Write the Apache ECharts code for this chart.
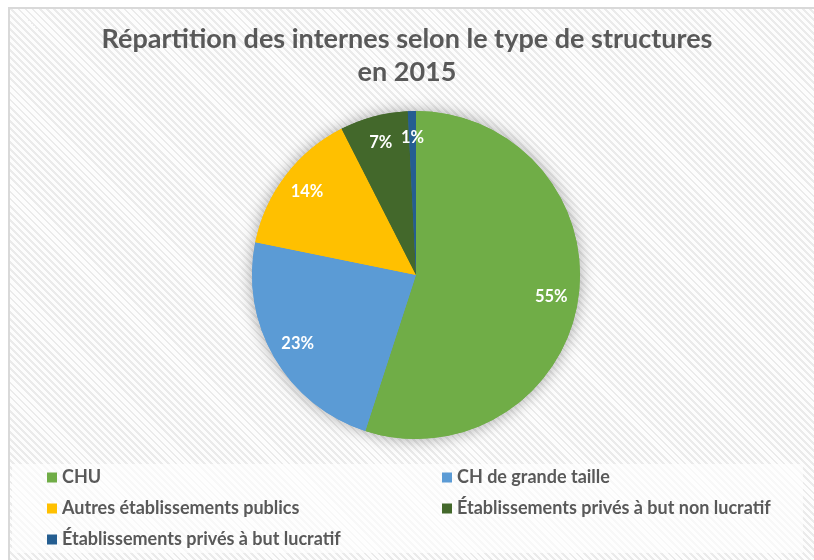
<!DOCTYPE html>
<html>
<head>
<meta charset="utf-8">
<script src="https://cdn.jsdelivr.net/npm/echarts@6/dist/echarts.min.js"></script>
<style>
html,body{margin:0;padding:0;background:#fff;overflow:hidden;}
.frame{position:absolute;left:8px;top:7px;width:820px;height:570px;border-left:2px solid #d9d9d9;border-top:2px solid #d9d9d9;
    background:repeating-linear-gradient(45deg,#fdfdfd 0px,#fdfdfd 3px,#ebebeb 3px,#ebebeb 5px);}
.legend-box{position:absolute;left:12px;top:464px;width:791px;height:89px;background:rgba(255,255,255,0.65);}
#main{position:absolute;left:0;top:0;width:814px;height:560px;}
</style>
</head>
<body>
<div class="frame"></div>
<div class="legend-box"></div>
<div id="main"></div>
<script>
// Répartition des internes selon le type de structures en 2015
var categories = ['CHU', 'CH de grande taille', 'Autres établissements publics', 'Établissements privés à but non lucratif', 'Établissements privés à but lucratif'];
var values = [55.0, 23.2, 14.3, 6.7, 0.8];
var colors = ['#70AD47', '#5B9BD5', '#FFC000', '#43682B', '#255E91'];
var legendLeft = ['CHU', 'Autres établissements publics', 'Établissements privés à but lucratif'];
var legendRight = ['CH de grande taille', 'Établissements privés à but non lucratif'];

var font = 'Lato';
var pieData = categories.map(function(c, i){
    return {name:c, value:values[i], itemStyle:{color:colors[i]}};
});

var chart = echarts.init(document.getElementById('main'));
var legendBase = {
    orient:'vertical',
    top:462,
    icon:'rect',
    itemWidth:10,
    itemHeight:10,
    itemGap:10,
    selectedMode:false,
    textStyle:{color:'#595959', fontFamily:font, fontWeight:'bold', fontSize:18, lineHeight:21}
};
var options = {
    backgroundColor:'transparent',
    animation:false,
    title:{
        text:'Répartition des internes selon le type de structures\nen 2015',
        left:'center',
        top:18,
        textStyle:{color:'#595959', fontFamily:font, fontWeight:'bold', fontSize:27, lineHeight:33}
    },
    legend:[
        Object.assign({}, legendBase, {left:42, data:legendLeft}),
        Object.assign({}, legendBase, {left:437, data:legendRight})
    ],
    series:[
        {//shadow under the pie
            type:'pie', z:1, silent:true,
            center:[416, 275], radius:[0, 164],
            startAngle:90,
            label:{show:false}, labelLine:{show:false},
            itemStyle:{shadowBlur:16, shadowColor:'rgba(0,0,0,0.35)'},
            data:pieData
        },
        {
            type:'pie', z:2, silent:true,
            center:[416, 275], radius:[0, 164],
            startAngle:90,
            label:{show:false}, labelLine:{show:false},
            data:pieData
        },
        {//labels near the rim
            type:'pie', z:3, silent:true,
            center:[416, 275], radius:[104, 164],
            startAngle:90,
            percentPrecision:0,
            itemStyle:{color:'rgba(0,0,0,0)'},
            label:{show:true, position:'inside', formatter:'{d}%', color:'#fff', fontFamily:font, fontWeight:'bold', fontSize:16.5},
            labelLine:{show:false},
            data:categories.map(function(c, i){ return {name:c, value:values[i]}; })
        }
    ]
};
chart.setOption(options);
</script>
</body>
</html>
